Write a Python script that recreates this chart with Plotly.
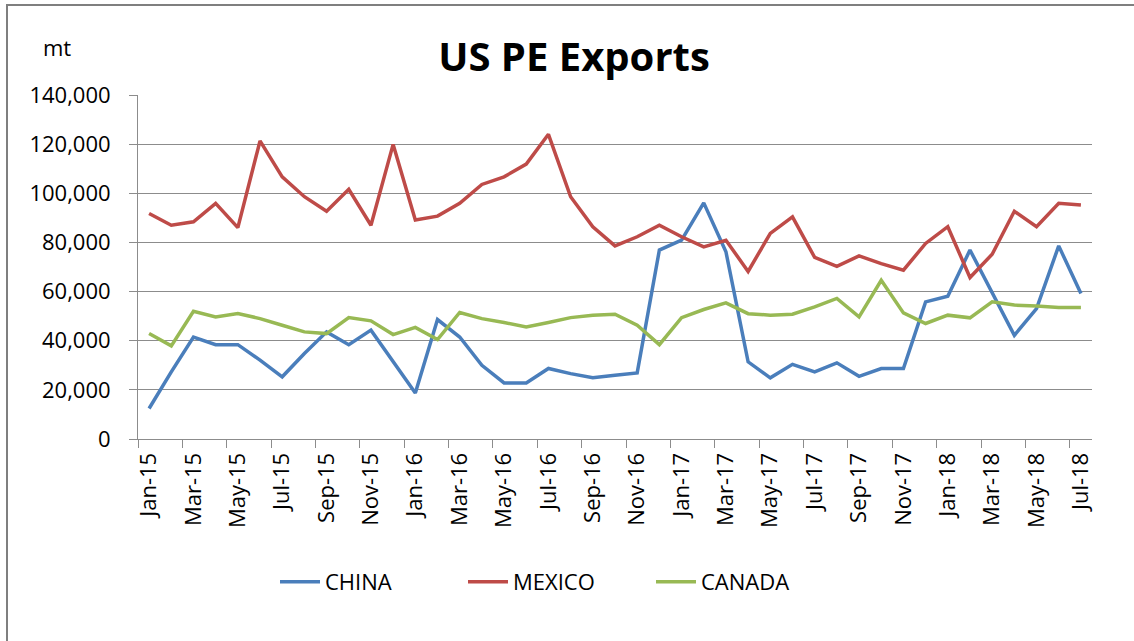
import plotly.graph_objects as go

months = ["Jan-15","Feb-15","Mar-15","Apr-15","May-15","Jun-15","Jul-15","Aug-15","Sep-15","Oct-15","Nov-15","Dec-15",
          "Jan-16","Feb-16","Mar-16","Apr-16","May-16","Jun-16","Jul-16","Aug-16","Sep-16","Oct-16","Nov-16","Dec-16",
          "Jan-17","Feb-17","Mar-17","Apr-17","May-17","Jun-17","Jul-17","Aug-17","Sep-17","Oct-17","Nov-17","Dec-17",
          "Jan-18","Feb-18","Mar-18","Apr-18","May-18","Jun-18","Jul-18"]

china = [12400, 27300, 41500, 38400, 38400, 32100, 25300, 34800, 43600, 38400, 44300, 31400,
         18700, 48600, 41500, 30000, 22800, 22800, 28700, 26600, 24900, 25900, 26900, 76900,
         80900, 96100, 76200, 31400, 24900, 30400, 27300, 31000, 25500, 28700, 28700, 55800,
         58100, 76900, 59900, 42200, 53100, 78600, 59200]

mexico = [91800, 87000, 88400, 95900, 86000, 121300, 106700, 98600, 92700, 101600, 87000, 119900,
          89100, 90700, 95900, 103600, 106700, 111900, 124000, 98600, 86400, 78600, 82300, 87000,
          82300, 78200, 80900, 68200, 83700, 90400, 73900, 70300, 74500, 71400, 68700, 79600,
          86400, 65700, 75200, 92700, 86400, 95900, 95200]

canada = [42900, 37900, 52000, 49700, 51100, 49000, 46300, 43600, 42900, 49400, 48100, 42500,
          45400, 40500, 51500, 49000, 47400, 45600, 47400, 49400, 50400, 50800, 46300, 38400,
          49400, 52700, 55400, 51000, 50400, 50800, 53800, 57200, 49700, 64600, 51300, 47000,
          50400, 49300, 55800, 54500, 54100, 53500, 53500]

series = [("CHINA", china, "#4A7EBB"), ("MEXICO", mexico, "#BE4B48"), ("CANADA", canada, "#98B954")]

FONT = "Open Sans, Lato, Liberation Sans, sans-serif"
GRID = "#8C8C8C"

fig = go.Figure()
for name, vals, col in series:
    fig.add_trace(go.Scatter(x=months, y=vals, name=name, mode="lines",
                             line=dict(color=col, width=3.5)))

W, H = 1134, 641
ML, MR, MT, MB = 138, 42, 95, 202
pw = W - ML - MR
ph = H - MT - MB

def px_x(p):
    return (p - ML) / pw

def px_y(p):
    return (H - MB - p) / ph

fig.update_layout(
    width=W, height=H,
    margin=dict(l=ML, r=MR, t=MT, b=MB),
    paper_bgcolor="white", plot_bgcolor="white",
    font=dict(family=FONT, size=22, color="#000000"),
    title=dict(text="<b>US PE Exports</b>", x=574 / W, xref="container", xanchor="center",
               y=1 - 57 / H, yref="container", yanchor="middle",
               font=dict(family=FONT, size=40, color="#000000")),
    showlegend=True,
    legend=dict(orientation="h", x=px_x(275), xanchor="left", y=px_y(582), yanchor="middle",
                font=dict(family=FONT, size=22, color="#000000"), bgcolor="rgba(0,0,0,0)",
                itemwidth=40, entrywidth=133),
    xaxis=dict(type="category", tickson="boundaries", dtick=2, tickangle=-90,
               showgrid=False, showline=True, linecolor=GRID, linewidth=1,
               ticks="outside", ticklen=8, tickcolor=GRID, tickwidth=1,
               range=[-0.5, len(months) - 0.5], ticklabelstandoff=4,
               tickfont=dict(family=FONT, size=22, color="#000000")),
    yaxis=dict(range=[0, 140000], dtick=20000, tickformat=",", showgrid=True,
               gridcolor=GRID, gridwidth=1, showline=True, linecolor=GRID, linewidth=1,
               ticks="outside", ticklen=8, tickcolor=GRID, tickwidth=1,
               zeroline=False, ticklabelstandoff=14,
               tickfont=dict(family=FONT, size=22, color="#000000")),
    annotations=[dict(text="mt", x=px_x(57), y=px_y(47), xref="paper", yref="paper",
                      showarrow=False, xanchor="center", yanchor="middle",
                      font=dict(family=FONT, size=22, color="#000000"))],
    shapes=[
        dict(type="line", xref="paper", yref="paper", x0=px_x(6), x1=px_x(W), y0=px_y(5), y1=px_y(5),
             line=dict(color="#7F7F7F", width=2)),
        dict(type="line", xref="paper", yref="paper", x0=px_x(7), x1=px_x(7), y0=px_y(5), y1=px_y(H),
             line=dict(color="#7F7F7F", width=2)),
    ],
)

fig.write_html("out.html", config={"displayModeBar": False},
               post_script="document.body.style.margin='0';document.body.style.overflow='hidden';")
